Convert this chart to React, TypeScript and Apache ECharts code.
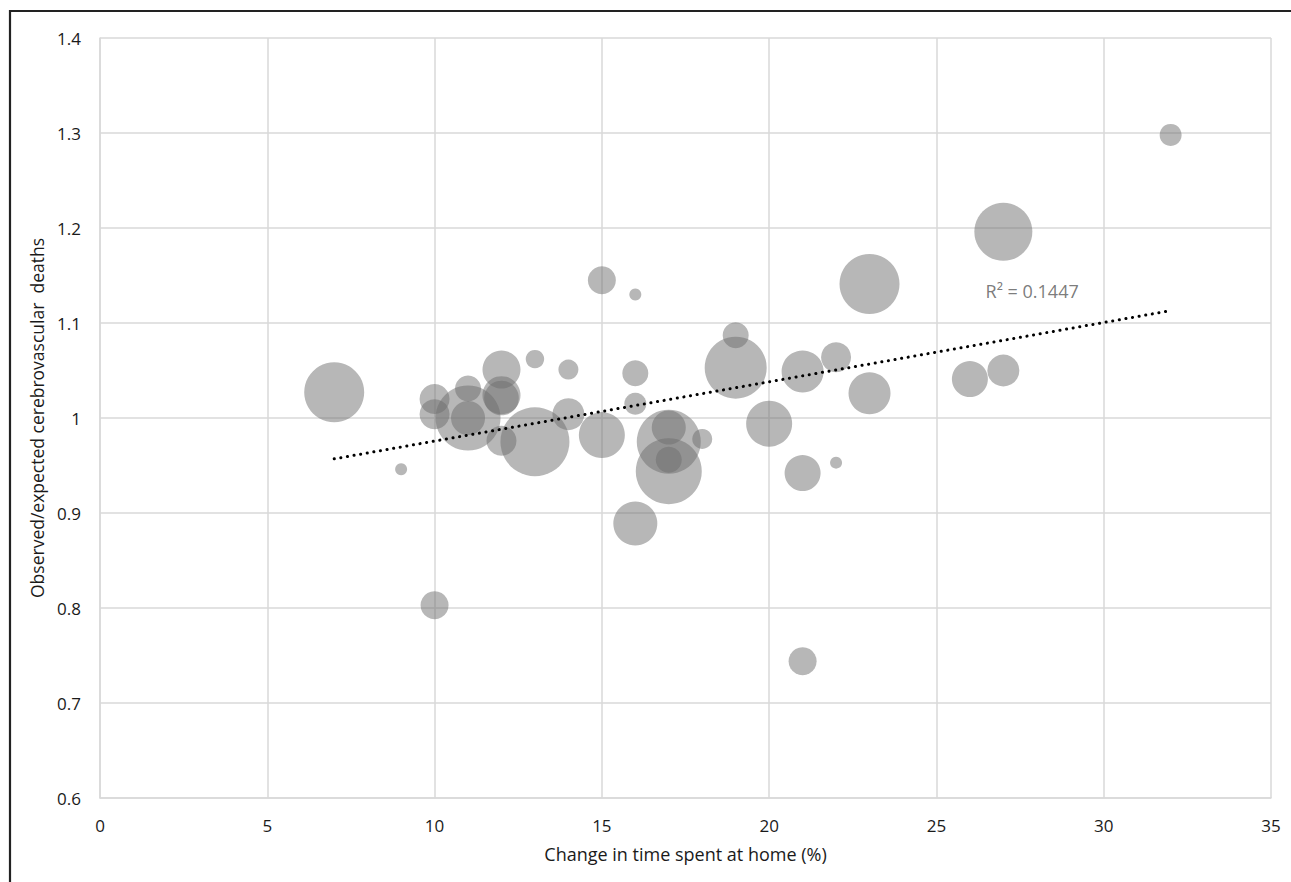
import React, { useEffect, useRef } from "react";
import * as echarts from "echarts";

// Change in time spent at home (%)
const homeChange = [
  32, 27, 23, 15, 16, 19, 19, 22, 21, 23, 26, 27, 7, 10, 10, 11, 11, 11, 12, 12, 12,
  12, 13, 13, 14, 14, 15, 16, 16, 16, 17, 17, 17, 17, 18, 9, 20, 21, 22, 10, 21,
];
// Observed/expected cerebrovascular deaths
const obsExp = [
  1.298, 1.196, 1.141, 1.145, 1.13, 1.087, 1.053, 1.064, 1.049, 1.026, 1.041, 1.05,
  1.027, 1.02, 1.004, 1.031, 1.0, 1.0, 1.051, 1.024, 1.021, 0.976, 1.062, 0.975,
  1.051, 1.004, 0.982, 1.047, 1.015, 0.889, 0.975, 0.99, 0.944, 0.956, 0.978, 0.946,
  0.994, 0.942, 0.953, 0.803, 0.744,
];
// Bubble weight (relative size)
const bubbleWeight = [
  1.21, 8.41, 9, 1.96, 0.36, 1.69, 9.61, 2.25, 4.41, 4.41, 3.24, 2.56, 9, 2.25, 2.25,
  1.69, 10.56, 2.89, 3.61, 3.61, 3.0, 2.25, 0.85, 11.9, 1.0, 2.56, 5.29, 1.69, 1.21,
  4.84, 10.24, 2.89, 10.89, 1.69, 1.0, 0.36, 5.29, 3.24, 0.36, 1.96, 1.96,
];

// Linear trend line end points
const trendX = [7, 32];
const trendY = [0.957, 1.113];
const trendLabel = "R² = 0.1447";
const trendLabelPos = [27.86, 1.1337];

const xTicks = { min: 0, max: 35, interval: 5 };
const yTicks = { min: 0.6, max: 1.4, interval: 0.1 };

const FONT = "'Open Sans', 'Noto Sans', sans-serif";

export default function App() {
  const ref = useRef<HTMLDivElement>(null);

  useEffect(() => {
    if (!ref.current) return;
    const chart = echarts.init(ref.current, undefined, { renderer: "svg" });
    const bubbles = homeChange.map((x, i) => [x, obsExp[i], bubbleWeight[i]]);
    const trend = trendX.map((x, i) => [x, trendY[i]]);
    const gridColor = "#d9d9d9";
    chart.setOption({
      animation: false,
      backgroundColor: "#ffffff",
      textStyle: { fontFamily: FONT },
      grid: { left: 100, top: 38, right: 20, bottom: 84, containLabel: false },
      graphic: [
        {
          type: "line",
          shape: { x1: 9, y1: 11, x2: 1291, y2: 11 },
          style: { stroke: "#222222", lineWidth: 2.2 },
          silent: true,
        },
        {
          type: "line",
          shape: { x1: 10, y1: 10, x2: 10, y2: 882 },
          style: { stroke: "#222222", lineWidth: 2.2 },
          silent: true,
        },
      ],
      xAxis: {
        type: "value",
        min: xTicks.min,
        max: xTicks.max,
        interval: xTicks.interval,
        name: "Change in time spent at home (%)",
        nameLocation: "middle",
        nameGap: 47,
        nameTextStyle: { fontSize: 18, color: "#1a1a1a", fontFamily: FONT },
        axisLine: { show: true, lineStyle: { color: gridColor, width: 1.5 } },
        axisTick: { show: false },
        axisLabel: { fontSize: 17, color: "#1a1a1a", margin: 19, fontFamily: FONT },
        splitLine: { show: true, lineStyle: { color: gridColor, width: 1.5 } },
      },
      yAxis: {
        type: "value",
        min: yTicks.min,
        max: yTicks.max,
        interval: yTicks.interval,
        name: "Observed/expected cerebrovascular  deaths",
        nameLocation: "middle",
        nameGap: 52,
        nameTextStyle: { fontSize: 17.5, color: "#1a1a1a", fontFamily: FONT },
        axisLine: { show: true, lineStyle: { color: gridColor, width: 1.5 } },
        axisTick: { show: false },
        axisLabel: {
          fontSize: 17,
          color: "#1a1a1a",
          margin: 19,
          fontFamily: FONT,
          formatter: (v: number) => String(Math.round(v * 10) / 10),
        },
        splitLine: { show: true, lineStyle: { color: gridColor, width: 1.5 } },
      },
      series: [
        {
          type: "scatter",
          data: bubbles,
          symbolSize: (v: number[]) => 20 * Math.sqrt(v[2]),
          itemStyle: { color: "rgba(110,110,110,0.62)" },
          z: 2,
        },
        {
          type: "line",
          data: trend,
          symbol: "none",
          lineStyle: { color: "#000000", width: 3, type: [0.1, 6.6], cap: "round" },
          z: 3,
        },
        {
          type: "scatter",
          data: [trendLabelPos],
          symbolSize: 0,
          silent: true,
          label: {
            show: true,
            position: "inside",
            formatter: trendLabel,
            fontSize: 18,
            color: "#595959",
            fontFamily: FONT,
          },
          z: 4,
        },
      ],
    });
    return () => chart.dispose();
  }, []);

  return (
    <div
      ref={ref}
      style={{ position: "absolute", left: 0, top: 0, width: 1291, height: 882 }}
    />
  );
}
